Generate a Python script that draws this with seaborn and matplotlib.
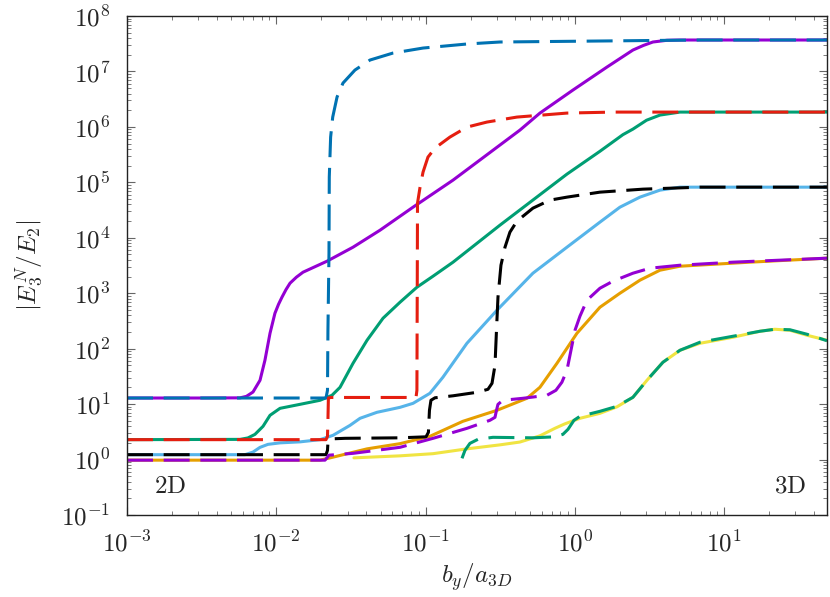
import numpy as np
import pandas as pd
import matplotlib
matplotlib.use("Agg")
import matplotlib.pyplot as plt
import matplotlib.ticker as mticker
import seaborn as sns

# ---- data (stored as log10 of x = b_y/a_3D and y = |E3^N/E2|) ----
purple_solid_lx = [-3.000, -2.511, -2.243, -2.200, -2.156, -2.109, -2.076, -2.042, -2.009, -1.985,
                   -1.962, -1.935, -1.908, -1.865, -1.821, -1.660, -1.486, -1.305, -1.084, -0.816,
                   -0.368, -0.234, -0.013, 0.215, 0.389, 0.460, 0.523, 0.617, 0.704, 1.689]
purple_solid_ly = [1.110, 1.110, 1.113, 1.140, 1.218, 1.430, 1.791, 2.278, 2.639, 2.800,
                   2.928, 3.065, 3.181, 3.290, 3.379, 3.578, 3.830, 4.137, 4.552, 5.040,
                   5.942, 6.249, 6.664, 7.079, 7.386, 7.470, 7.531, 7.562, 7.567, 7.567]

green_solid_lx = [-3.000, -2.243, -2.190, -2.143, -2.089, -2.042, -1.975, -1.841, -1.707, -1.627,
                  -1.573, -1.486, -1.392, -1.285, -1.171, -1.058, -0.950, -0.816, -0.502, -0.053,
                  0.168, 0.322, 0.389, 0.480, 0.570, 0.704, 1.689]
green_solid_ly = [0.359, 0.364, 0.390, 0.454, 0.599, 0.798, 0.924, 0.996, 1.069, 1.159,
                  1.303, 1.736, 2.152, 2.549, 2.838, 3.108, 3.307, 3.560, 4.227, 5.148,
                  5.560, 5.860, 5.960, 6.120, 6.213, 6.267, 6.267]

skyblue_solid_lx = [-3.000, -2.210, -2.156, -2.109, -2.056, -1.975, -1.841, -1.707, -1.620, -1.506,
                    -1.439, -1.326, -1.171, -1.084, -0.971, -0.884, -0.723, -0.522, -0.281, -0.053,
                    0.168, 0.302, 0.436, 0.570, 0.704, 1.689]
skyblue_solid_ly = [0.088, 0.088, 0.135, 0.220, 0.274, 0.301, 0.319, 0.359, 0.437, 0.617,
                    0.744, 0.852, 0.942, 1.014, 1.195, 1.484, 2.097, 2.693, 3.361, 3.830,
                    4.282, 4.552, 4.733, 4.859, 4.913, 4.913]

orange_solid_lx = [-3.000, -1.707, -1.620, -1.392, -1.171, -0.971, -0.750, -0.522, -0.321, -0.234,
                   -0.120, 0.014, 0.168, 0.302, 0.436, 0.570, 0.704, 1.173, 1.689]
orange_solid_ly = [-0.011, -0.011, 0.043, 0.193, 0.287, 0.419, 0.690, 0.888, 1.105, 1.303,
                   1.736, 2.278, 2.747, 3.000, 3.235, 3.415, 3.487, 3.560, 3.632]

yellow_solid_lx = [-1.480, -1.171, -0.950, -0.723, -0.502, -0.368, -0.234, -0.134, -0.067, 0.034,
                   0.168, 0.282, 0.389, 0.483, 0.590, 0.704, 0.838, 1.059, 1.240, 1.340,
                   1.441, 1.555, 1.689]
yellow_solid_ly = [0.031, 0.067, 0.106, 0.193, 0.265, 0.316, 0.428, 0.563, 0.644, 0.744,
                   0.834, 0.951, 1.123, 1.430, 1.755, 1.971, 2.097, 2.206, 2.314, 2.350,
                   2.332, 2.242, 2.152]

blue_dashed_lx = [-3.000, -1.667, -1.657, -1.654, -1.647, -1.645, -1.636, -1.622, -1.593, -1.553,
                  -1.473, -1.372, -1.218, -1.017, -0.723, -0.502, 0.168, 0.838, 1.689]
blue_dashed_ly = [1.110, 1.110, 1.249, 2.332, 3.722, 5.094, 5.816, 6.177, 6.538, 6.791,
                  7.025, 7.206, 7.332, 7.422, 7.495, 7.531, 7.549, 7.567, 7.567]

red_dashed_lx = [-3.000, -1.667, -1.657, -1.654, -1.651, -1.634, -1.064, -1.058, -1.056, -1.054,
                 -1.037, -1.017, -0.984, -0.937, -0.837, -0.723, -0.589, -0.388, -0.053, 0.255,
                 1.689]
red_dashed_ly = [0.359, 0.359, 0.419, 0.708, 1.110, 1.120, 1.120, 1.249, 2.874, 4.625,
                 4.913, 5.184, 5.455, 5.617, 5.816, 5.996, 6.087, 6.177, 6.249, 6.267,
                 6.267]

black_dashed_lx = [-3.000, -1.667, -1.657, -1.654, -1.634, -1.540, -1.171, -0.997, -0.981, -0.974,
                   -0.964, -0.937, -0.816, -0.656, -0.582, -0.555, -0.535, -0.525, -0.515, -0.495,
                   -0.468, -0.435, -0.388, -0.281, -0.167, -0.053, 0.168, 0.456, 0.838, 1.689]
black_dashed_ly = [0.088, 0.088, 0.166, 0.310, 0.373, 0.383, 0.392, 0.410, 0.491, 0.888,
                   1.069, 1.114, 1.150, 1.213, 1.267, 1.375, 1.700, 2.332, 2.928, 3.505,
                   3.830, 4.101, 4.300, 4.534, 4.679, 4.733, 4.823, 4.877, 4.913, 4.913]

purple_dashed_lx = [-3.000, -1.674, -1.657, -1.647, -1.486, -1.171, -0.950, -0.723, -0.569, -0.535,
                    -0.525, -0.515, -0.482, -0.348, -0.187, -0.127, -0.087, -0.053, -0.026, 0.001,
                    0.034, 0.081, 0.168, 0.255, 0.389, 0.503, 0.704, 1.059, 1.689]
purple_dashed_ly = [-0.011, -0.011, 0.043, 0.079, 0.112, 0.221, 0.383, 0.563, 0.708, 0.762,
                    0.888, 0.996, 1.069, 1.105, 1.159, 1.249, 1.394, 1.610, 1.971, 2.332,
                    2.585, 2.874, 3.090, 3.217, 3.361, 3.451, 3.505, 3.560, 3.632]

green_dashed_lx = [-0.756, -0.736, -0.703, -0.649, -0.549, -0.281, -0.134, -0.080, -0.046, -0.006,
                   0.034, 0.168, 0.282, 0.389, 0.483, 0.590, 0.704, 0.838, 1.059, 1.240,
                   1.340, 1.441, 1.555, 1.689]
green_dashed_ly = [0.022, 0.166, 0.292, 0.365, 0.401, 0.392, 0.410, 0.455, 0.545, 0.708,
                   0.780, 0.870, 0.960, 1.123, 1.430, 1.755, 1.971, 2.116, 2.224, 2.314,
                   2.350, 2.341, 2.260, 2.143]

x_ticks = [1e-3, 1e-2, 1e-1, 1e0, 1e1]
y_ticks = [1e-1, 1e0, 1e1, 1e2, 1e3, 1e4, 1e5, 1e6, 1e7, 1e8]

series = [
    # name, lx, ly, color, dashed
    ("purple_solid", purple_solid_lx, purple_solid_ly, "#9400d3", False),
    ("green_solid", green_solid_lx, green_solid_ly, "#009e73", False),
    ("skyblue_solid", skyblue_solid_lx, skyblue_solid_ly, "#56b4e9", False),
    ("orange_solid", orange_solid_lx, orange_solid_ly, "#e69f00", False),
    ("yellow_solid", yellow_solid_lx, yellow_solid_ly, "#f0e442", False),
    ("blue_dashed", blue_dashed_lx, blue_dashed_ly, "#0072b2", True),
    ("red_dashed", red_dashed_lx, red_dashed_ly, "#e51e10", True),
    ("black_dashed", black_dashed_lx, black_dashed_ly, "#000000", True),
    ("purple_dashed", purple_dashed_lx, purple_dashed_ly, "#9400d3", True),
    ("green_dashed", green_dashed_lx, green_dashed_ly, "#009e73", True),
]

sns.set_theme(style="ticks")
plt.rcParams["mathtext.fontset"] = "cm"
plt.rcParams["font.family"] = ["DejaVu Serif"]

fig = plt.figure(figsize=(8.30, 5.97), dpi=100)
ax = fig.add_axes([127 / 830, 1 - 515 / 597, 700 / 830, 499 / 597])

for name, lx, ly, col, dashed in series:
    df = pd.DataFrame({"x": np.power(10.0, lx), "y": np.power(10.0, ly)})
    ls = (0, (8.5, 3.5)) if dashed else "-"
    sns.lineplot(data=df, x="x", y="y", ax=ax, color=col, linewidth=2.2,
                 linestyle=ls, sort=False, estimator=None, legend=False)

ax.set_xscale("log")
ax.set_yscale("log")
ax.set_xlim(1e-3, 10 ** 1.689)
ax.set_ylim(1e-1, 1e8)

fmt = mticker.FuncFormatter(lambda v, p: r"$10^{%d}$" % int(round(np.log10(v))))
ax.xaxis.set_major_locator(mticker.FixedLocator(x_ticks))
ax.yaxis.set_major_locator(mticker.FixedLocator(y_ticks))
ax.xaxis.set_major_formatter(fmt)
ax.yaxis.set_major_formatter(fmt)
ax.xaxis.set_minor_locator(mticker.LogLocator(base=10, subs=np.arange(2, 10), numticks=50))
ax.yaxis.set_minor_locator(mticker.LogLocator(base=10, subs=np.arange(2, 10), numticks=50))
ax.xaxis.set_minor_formatter(mticker.NullFormatter())
ax.yaxis.set_minor_formatter(mticker.NullFormatter())

ax.tick_params(which="both", direction="in", top=True, right=True, color="#666666",
               labelsize=18)
ax.tick_params(which="major", length=6, width=0.8)
ax.tick_params(which="minor", length=3, width=0.6)
ax.tick_params(axis="x", which="major", pad=11)
ax.tick_params(axis="y", which="major", pad=12)
for s in ax.spines.values():
    s.set_color("#222222")
    s.set_linewidth(1.0)

ax.set_xlabel(r"$b_y/a_{3D}$", fontsize=18, labelpad=4)
ax.set_ylabel(r"$|E_3^N/E_2|$", fontsize=18, labelpad=12)

ax.text(0.038, 0.035, r"$\mathrm{2D}$", transform=ax.transAxes, fontsize=18,
        ha="left", va="bottom")
ax.text(0.97, 0.035, r"$\mathrm{3D}$", transform=ax.transAxes, fontsize=18,
        ha="right", va="bottom")

fig.savefig("out.png", dpi=100)
